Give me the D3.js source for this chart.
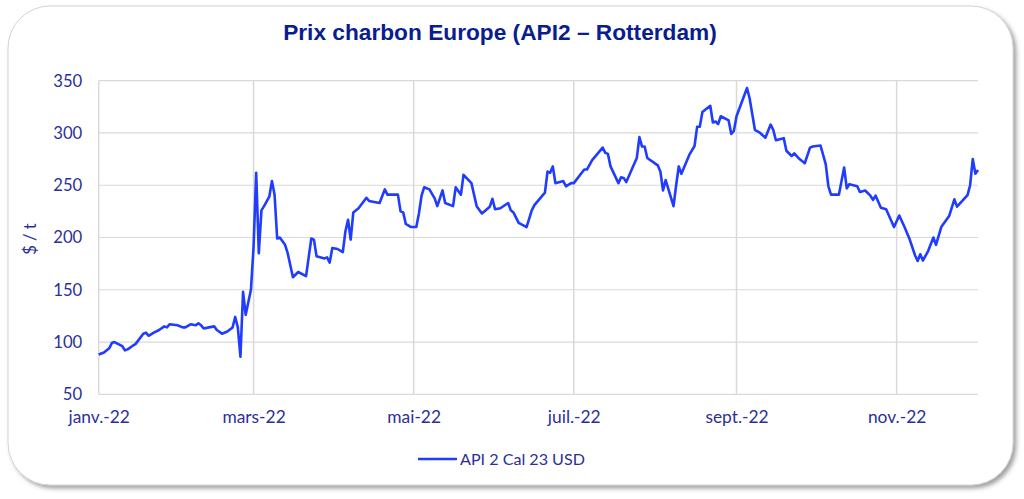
<!DOCTYPE html>
<html><head><meta charset="utf-8">
<script src="https://cdn.jsdelivr.net/npm/d3@7"></script>
<style>html,body{margin:0;padding:0;background:#fff;}svg{display:block;}</style>
</head><body>
<svg id="chart" width="1024" height="499"></svg>
<script>
const title = "Prix charbon Europe (API2 – Rotterdam)";
const seriesName = "API 2 Cal 23 USD";
const yTitle = "$ / t";
const yTicks = [50, 100, 150, 200, 250, 300, 350];
const xTickDates = ["2022-01-01","2022-03-01","2022-05-01","2022-07-01","2022-09-01","2022-11-01"];
const xTickLabels = ["janv.-22","mars-22","mai-22","juil.-22","sept.-22","nov.-22"];
const dates = [
"2022-01-01","2022-01-03","2022-01-05","2022-01-06","2022-01-07","2022-01-10","2022-01-11","2022-01-12","2022-01-14","2022-01-15",
"2022-01-18","2022-01-19","2022-01-20","2022-01-22","2022-01-24","2022-01-26","2022-01-27","2022-01-28","2022-01-31","2022-02-02",
"2022-02-03","2022-02-05","2022-02-07","2022-02-08","2022-02-09","2022-02-10","2022-02-12","2022-02-14","2022-02-15","2022-02-17",
"2022-02-19","2022-02-21","2022-02-22","2022-02-23","2022-02-24","2022-02-25","2022-02-26","2022-02-28","2022-03-01","2022-03-02",
"2022-03-03","2022-03-04","2022-03-05","2022-03-07","2022-03-08","2022-03-09","2022-03-10","2022-03-11","2022-03-13","2022-03-14",
"2022-03-16","2022-03-18","2022-03-21","2022-03-23","2022-03-24","2022-03-25","2022-03-28","2022-03-29","2022-03-30","2022-03-31",
"2022-04-02","2022-04-04","2022-04-05","2022-04-06","2022-04-07","2022-04-08","2022-04-10","2022-04-13","2022-04-14","2022-04-18",
"2022-04-20","2022-04-21","2022-04-25","2022-04-26","2022-04-27","2022-04-28","2022-04-30","2022-05-02","2022-05-03","2022-05-04",
"2022-05-05","2022-05-07","2022-05-09","2022-05-10","2022-05-12","2022-05-13","2022-05-16","2022-05-17","2022-05-19","2022-05-20",
"2022-05-23","2022-05-25","2022-05-27","2022-05-30","2022-05-31","2022-06-01","2022-06-03","2022-06-06","2022-06-07","2022-06-08",
"2022-06-10","2022-06-13","2022-06-15","2022-06-16","2022-06-20","2022-06-21","2022-06-22","2022-06-23","2022-06-24","2022-06-27",
"2022-06-28","2022-06-30","2022-07-01","2022-07-05","2022-07-06","2022-07-08","2022-07-12","2022-07-13","2022-07-14","2022-07-15",
"2022-07-18","2022-07-19","2022-07-20","2022-07-21","2022-07-25","2022-07-26","2022-07-27","2022-07-28","2022-07-29","2022-08-02",
"2022-08-03","2022-08-04","2022-08-05","2022-08-08","2022-08-09","2022-08-10","2022-08-11","2022-08-14","2022-08-16","2022-08-17",
"2022-08-18","2022-08-19","2022-08-22","2022-08-23","2022-08-24","2022-08-25","2022-08-26","2022-08-29","2022-08-30","2022-08-31",
"2022-09-01","2022-09-05","2022-09-06","2022-09-08","2022-09-10","2022-09-12","2022-09-14","2022-09-15","2022-09-16","2022-09-19",
"2022-09-20","2022-09-22","2022-09-23","2022-09-25","2022-09-27","2022-09-29","2022-09-30","2022-10-03","2022-10-05","2022-10-06",
"2022-10-07","2022-10-10","2022-10-12","2022-10-13","2022-10-14","2022-10-17","2022-10-18","2022-10-20","2022-10-22","2022-10-23",
"2022-10-24","2022-10-26","2022-10-28","2022-10-31","2022-11-02","2022-11-04","2022-11-06","2022-11-08","2022-11-09","2022-11-10",
"2022-11-11","2022-11-13","2022-11-15","2022-11-16","2022-11-18","2022-11-21","2022-11-23","2022-11-24","2022-11-28","2022-11-29",
"2022-11-30","2022-12-01","2022-12-02"];
const values = [
88,90,94,99,100,96,92,93,96.5,98,
108,109,106,109,111.5,115,114,117,116,114,
114,117,116,118,116,113,114,115,111.5,108,
110,114,124,114,86,148,126,150,191,262,
185,226,230,239,254,241,199,200,193,185,
162,167,163,199,198,182,180,181,176,190,
189,186,206,217,198,224,228,238,235,233,
246,241,241,225,224,213,210,210,223,240,
248,246,237.5,230,245,233,230,248,241,260,
252,230,223,229.5,237,227,228,233,226,224,
214,210,226,231,243,263,262,268,252,254,
249,252,252,265,265,274,286,281,280,268,
252,257.5,257,253,276,296,287,287,276,269,
263,245,255,230,250,268,261,279,287.5,306,
306,320,326,310,311,308.5,316,312,299,302,
316,343,333,303,300,295.5,308,303,293,295,
283,278,280.5,275,271,286,287,288,270,249,
241,241,267,247,251,249,243.5,245,240,236,
240,228.5,227,210,221,210,198,183,177.5,184,
178,187,200,193,210,220.5,236.5,229.5,240.6,250,
275,261,264.5];

const parse = d3.timeParse("%Y-%m-%d");
const data = dates.map((d, i) => ({date: parse(d), value: values[i]}));

const svg = d3.select("#chart");
const defs = svg.append("defs");
const f = defs.append("filter").attr("id","sh").attr("x","-5%").attr("y","-5%").attr("width","112%").attr("height","115%");
f.append("feDropShadow").attr("dx",3).attr("dy",3).attr("stdDeviation",2.2).attr("flood-color","#555").attr("flood-opacity",0.55);

svg.append("rect").attr("x",8).attr("y",6).attr("width",1005).attr("height",479).attr("rx",42).attr("ry",42)
  .attr("fill","#fff").attr("stroke","#d4d4d4").attr("stroke-width",1).attr("filter","url(#sh)");

const pL = 98.7, pR = 978, pT = 80.7, pB = 394.3;
const x = d3.scaleTime().domain([parse("2022-01-01"), parse("2022-12-02")]).range([pL, pR]);
const y = d3.scaleLinear().domain([50, 350]).range([pB, pT]);

const FONT = "Lato, 'Open Sans', sans-serif";
const tickColor = "#2b2f9a";

// fit a font size so that a sample text has the target width
function fitSize(sample, target, family, weight) {
  const t = svg.append("text").attr("font-family", family).attr("font-weight", weight || "normal")
    .attr("font-size", 20).text(sample);
  const w = t.node().getComputedTextLength();
  t.remove();
  return w > 0 ? 20 * target / w : 16;
}

const grid = svg.append("g");
grid.selectAll("line.h").data(yTicks).join("line").attr("class","h")
  .attr("x1", pL).attr("x2", pR).attr("y1", d => y(d)).attr("y2", d => y(d))
  .attr("stroke","#d9d9d9").attr("stroke-width",1.2);
const xTicks = xTickDates.map(parse);
grid.selectAll("line.v").data(xTicks).join("line").attr("class","v")
  .attr("x1", d => x(d)).attr("x2", d => x(d)).attr("y1", pT).attr("y2", pB)
  .attr("stroke","#d9d9d9").attr("stroke-width",1.5);

const ySize = Math.min(19, fitSize("350", 29, FONT));
const yAxis = d3.axisLeft(y).tickValues(yTicks).tickSize(0).tickPadding(16.5);
const gy = svg.append("g").attr("transform",`translate(${pL},0)`).call(yAxis);
gy.select(".domain").remove();
gy.selectAll("text").attr("font-family",FONT).attr("font-size",ySize).attr("fill",tickColor);

const xSize = Math.min(19, fitSize("janv.-22", 61.5, FONT));
const xAxis = d3.axisBottom(x).tickValues(xTicks).tickFormat((d,i) => xTickLabels[i]).tickSize(0).tickPadding(16);
const gx = svg.append("g").attr("transform",`translate(0,${pB})`).call(xAxis);
gx.select(".domain").remove();
gx.selectAll("text").attr("font-family",FONT).attr("font-size",xSize).attr("fill",tickColor);

svg.append("text").attr("transform","translate(36,239) rotate(-90)").attr("text-anchor","middle")
  .attr("font-family",FONT).attr("font-size",ySize).attr("fill",tickColor).text(yTitle);

const line = d3.line().x(d => x(d.date)).y(d => y(d.value));
svg.append("path").datum(data).attr("d", line).attr("fill","none")
  .attr("stroke","#1f3cff").attr("stroke-width",2.6).attr("stroke-linejoin","round");

const TFONT = "'Liberation Sans', Arial, sans-serif";
const tSize = Math.min(24, fitSize(title, 434, TFONT, "bold"));
svg.append("text").attr("x",500).attr("y",40).attr("text-anchor","middle")
  .attr("font-family",TFONT).attr("font-weight","bold").attr("font-size",tSize)
  .attr("fill","#0a1d8f").text(title);

const lSize = Math.min(19, fitSize(seriesName, 125, FONT));
svg.append("line").attr("x1",418).attr("x2",457).attr("y1",459).attr("y2",459).attr("stroke","#1f3cff").attr("stroke-width",2.6);
svg.append("text").attr("x",460).attr("y",465).attr("font-family",FONT).attr("font-size",lSize)
  .attr("fill",tickColor).text(seriesName);
</script>
</body></html>
